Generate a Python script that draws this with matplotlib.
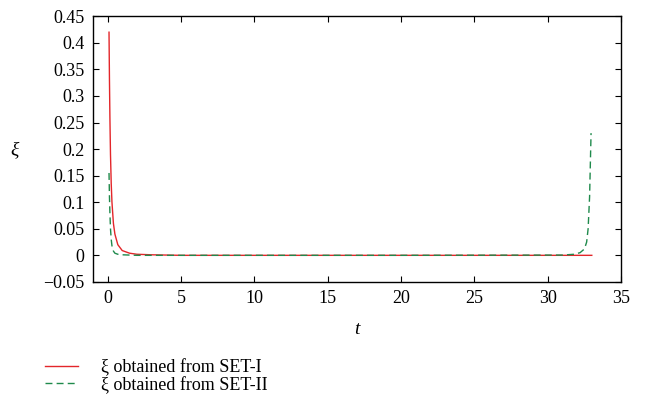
import matplotlib
matplotlib.use("Agg")
import matplotlib.pyplot as plt

plt.rcParams['font.family'] = ['Liberation Serif', 'DejaVu Serif']
plt.rcParams['mathtext.fontset'] = 'stix'

# SET-I (red, solid)
t_set1 = [0.1, 0.13, 0.16, 0.2, 0.25, 0.3, 0.4, 0.5, 0.7, 1.0, 1.5, 2.0, 3.0, 5.0, 10.0, 20.0, 30.0, 33.0]
xi_set1 = [0.42, 0.33, 0.26, 0.19, 0.135, 0.1, 0.06, 0.04, 0.02, 0.009, 0.004, 0.002, 0.001, 0.0, 0.0, 0.0, 0.0, 0.0]

# SET-II (green, dashed)
t_set2 = [0.1, 0.13, 0.16, 0.2, 0.25, 0.3, 0.4, 0.5, 0.7, 1.0, 2.0, 5.0, 20.0, 31.0, 31.8, 32.2, 32.5, 32.65, 32.75, 32.85, 32.95]
xi_set2 = [0.155, 0.11, 0.08, 0.05, 0.03, 0.018, 0.008, 0.004, 0.002, 0.001, 0.0, 0.0, 0.0, 0.0005, 0.002, 0.005, 0.012, 0.025, 0.05, 0.11, 0.23]

x_ticks = [0, 5, 10, 15, 20, 25, 30, 35]
y_ticks = [-0.05, 0, 0.05, 0.1, 0.15, 0.2, 0.25, 0.3, 0.35, 0.4, 0.45]
y_labels = ['\u22120.05', '0', '0.05', '0.1', '0.15', '0.2', '0.25', '0.3', '0.35', '0.4', '0.45']

fig = plt.figure(figsize=(6.45, 4.17), dpi=100)
ax = fig.add_axes([0.144, 0.324, 0.819, 0.637])

l1, = ax.plot(t_set1, xi_set1, color='#e3262a', lw=1.0, label='\u03be obtained from SET-I')
l2, = ax.plot(t_set2, xi_set2, color='#1f8a4c', lw=1.0, ls=(0, (5, 3)), label='\u03be obtained from SET-II')

ax.set_xlim(-1, 35)
ax.set_ylim(-0.05, 0.45)
ax.set_xticks(x_ticks)
ax.set_yticks(y_ticks)
ax.set_yticklabels(y_labels)
ax.tick_params(direction='in', top=True, right=True, labelsize=13, length=4, pad=6)
for s in ax.spines.values():
    s.set_linewidth(1.0)

ax.set_xlabel('t', fontsize=14, fontstyle='italic', labelpad=10)
fig.text(15 / 645, 1 - 150 / 417, '\u03be', fontsize=14, fontstyle='italic', ha='center', va='center')

leg = fig.legend(handles=[l1, l2], loc='upper left', bbox_to_anchor=(0.059, 0.158), frameon=False,
                 fontsize=13, handlelength=1.8, handletextpad=1.3, labelspacing=0.0, borderaxespad=0)

fig.savefig('out.png', dpi=100)
